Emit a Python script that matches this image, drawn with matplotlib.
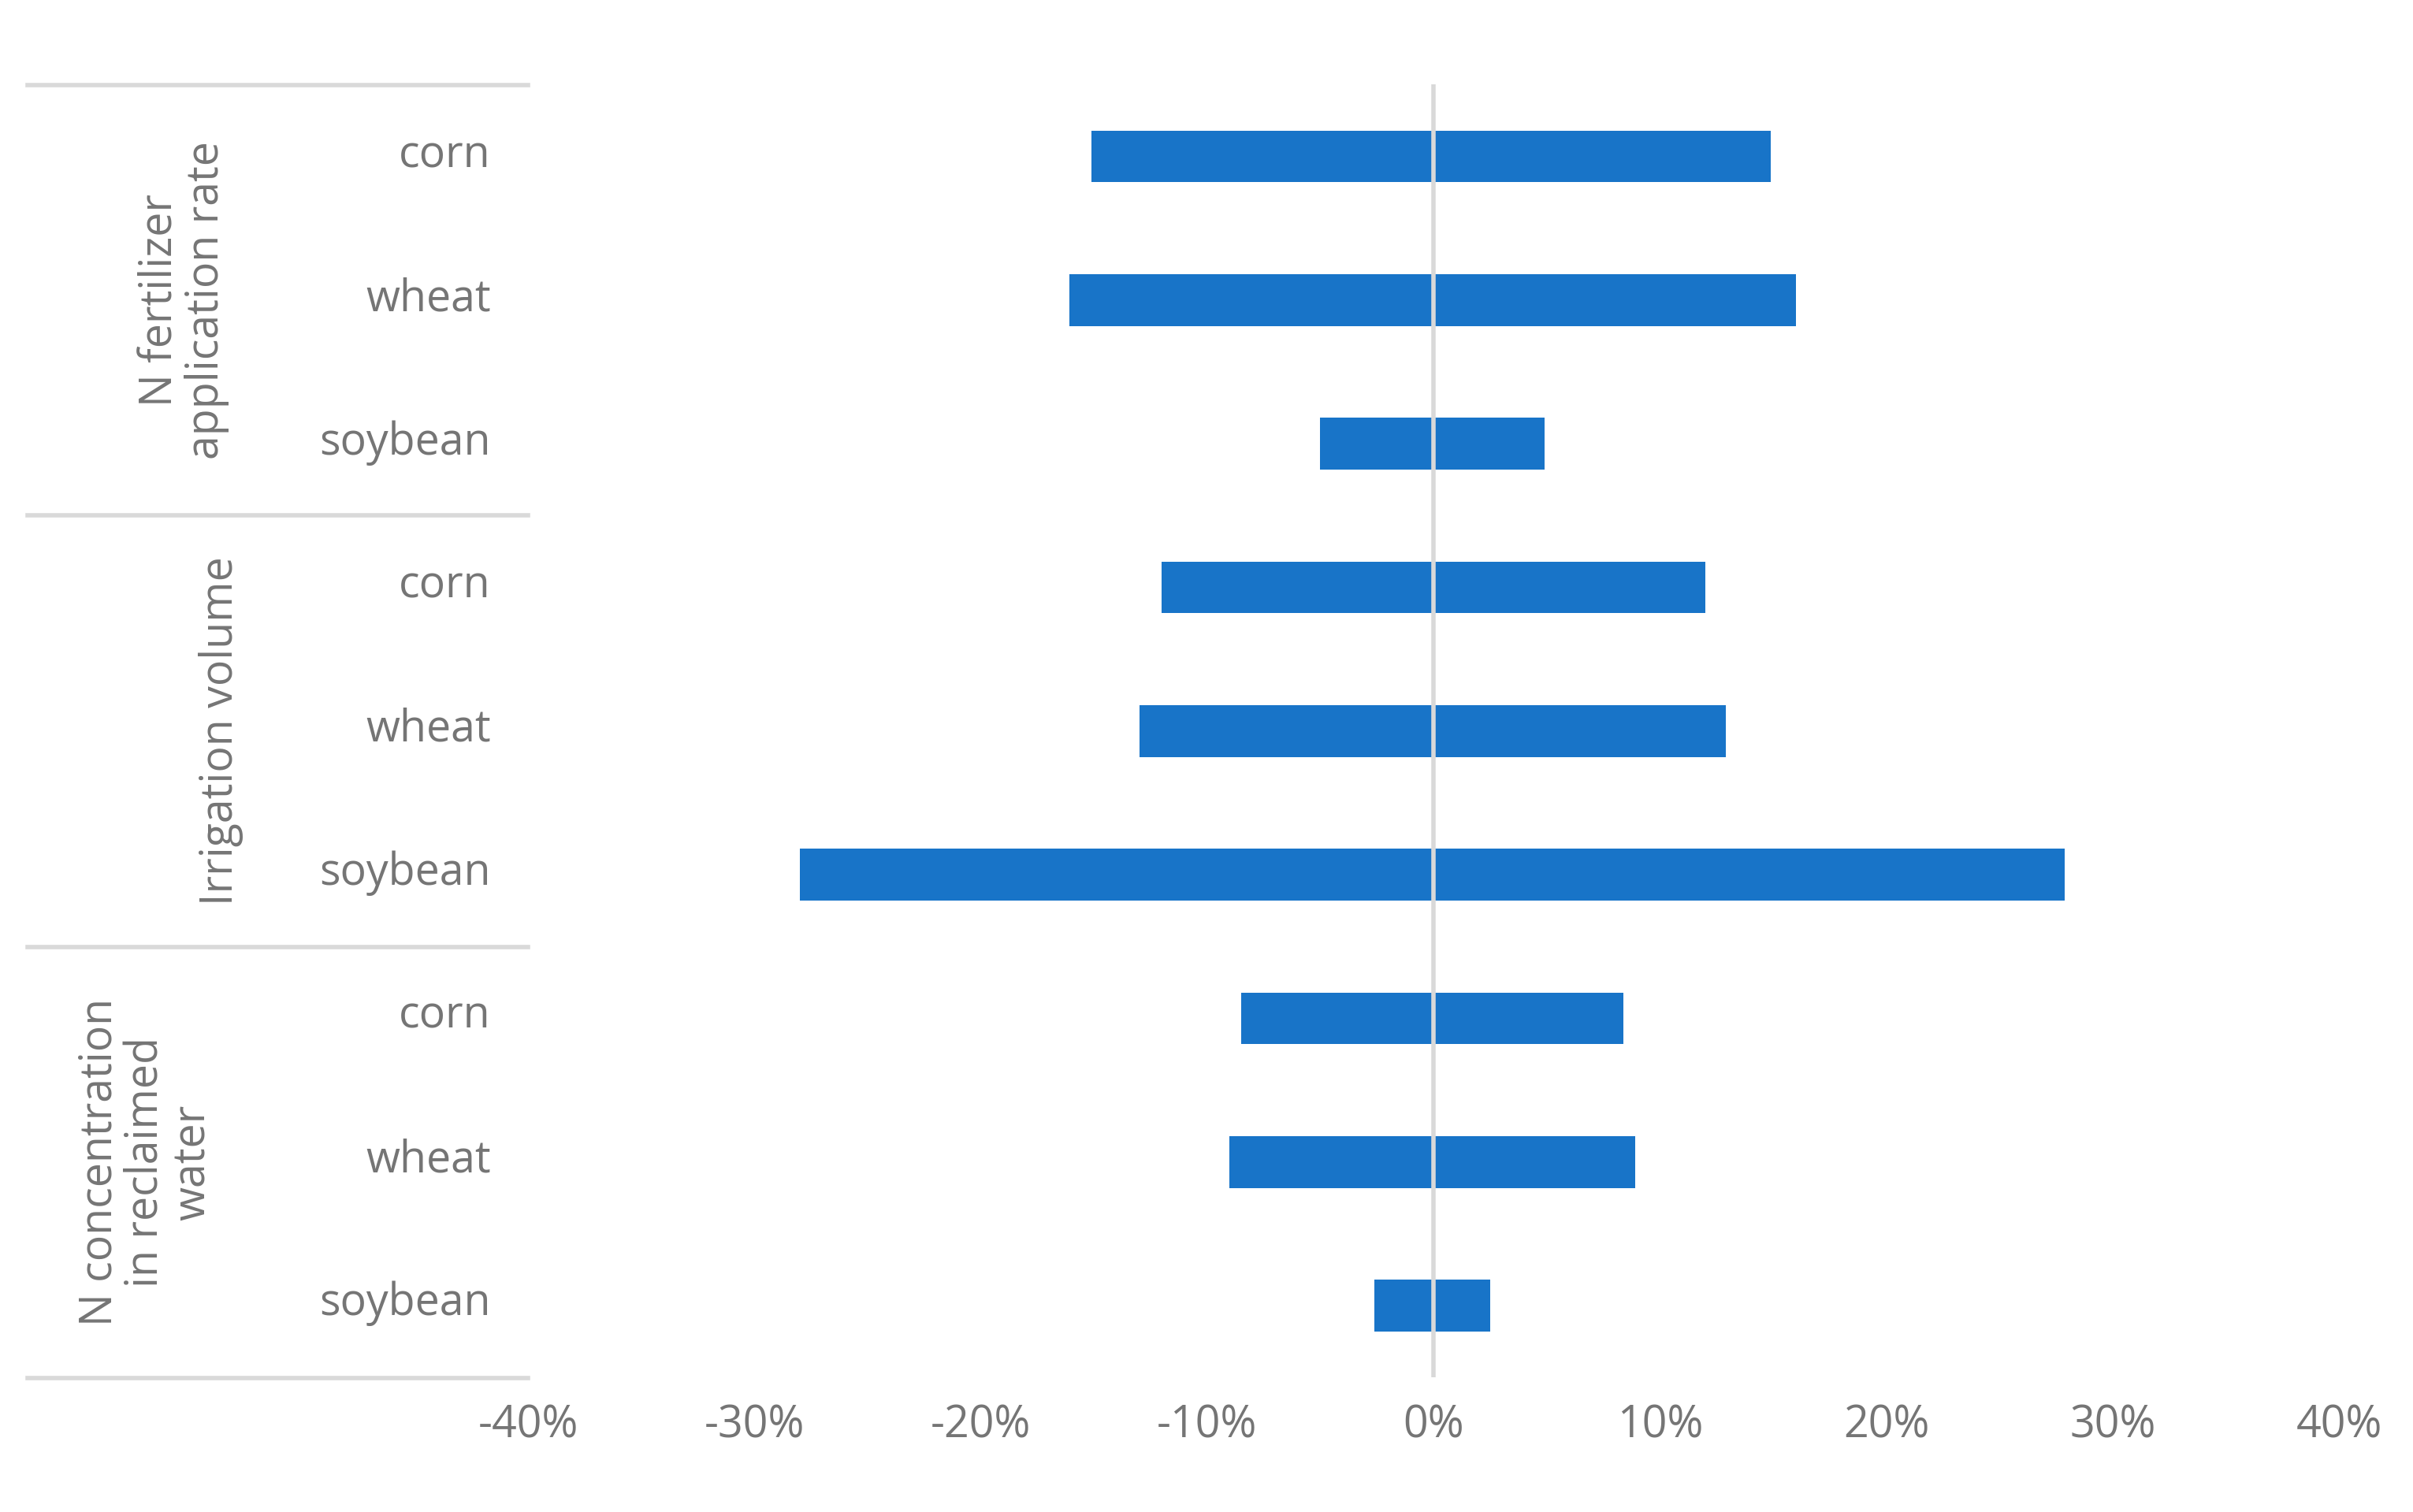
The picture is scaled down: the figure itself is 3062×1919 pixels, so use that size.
import matplotlib.pyplot as plt
from matplotlib.lines import Line2D
import numpy as np

groups = ["N fertilizer\napplication rate", "Irrigation volume",
          "N concentration\nin reclaimed\nwater"]
crops = ["corn", "wheat", "soybean"]
low = [-15.1, -16.1, -5.0, -12.0, -13.0, -28.0, -8.5, -9.0, -2.6]
high = [14.9, 16.0, 4.9, 12.0, 12.9, 27.9, 8.4, 8.9, 2.5]

blue = "#1874C8"
grey = "#757575"
plt.rcParams['font.family'] = ['Open Sans', 'DejaVu Sans']

fig = plt.figure(figsize=(15.31, 9.595), dpi=200)
ax = fig.add_axes([0.2188, 0.089, 0.7505, 0.855])

y = np.arange(len(low))
ax.barh(y, low, height=0.36, color=blue)
ax.barh(y, high, height=0.36, color=blue)
ax.axvline(0, color="#D9D9D9", lw=2)
ax.set_ylim(len(low) - 0.5, -0.5)
ax.set_xlim(-40, 40)
ax.set_xticks(range(-40, 41, 10))
ax.set_xticklabels([f"{v}%" for v in range(-40, 41, 10)])
ax.set_yticks([])
ax.tick_params(axis="x", length=0, labelsize=20, colors=grey, pad=12)
for s in ax.spines.values():
    s.set_visible(False)

# crop labels
for i in range(len(low)):
    fig.text(318 / 1563, 1 - (101 + 93 * i) / 980, crops[i % 3], ha="right",
             va="center", fontsize=20, color=grey)

# group separators
for yy in [55, 334, 614, 893]:
    fig.add_artist(Line2D([18 / 1563, 342 / 1563], [1 - yy / 980] * 2,
                          color="#D9D9D9", lw=2))

# group labels
for g, name in enumerate(groups):
    n = name.count("\n") + 1
    xc = 143 - (n - 1) * 48 / 2
    yc = 55 + 279.3 * (g + 0.5)
    fig.text(xc / 1563, 1 - yc / 980, name, rotation=90, ha="center",
             va="center", fontsize=20, color=grey, multialignment="center",
             linespacing=1.05)

fig.savefig("out.png")
